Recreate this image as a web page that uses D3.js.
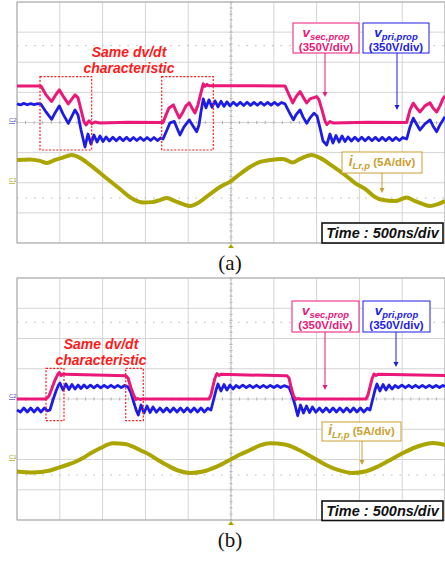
<!DOCTYPE html>
<html>
<head>
<meta charset="utf-8">
<script src="https://cdn.jsdelivr.net/npm/d3@7"></script>
<style>
html, body { margin: 0; padding: 0; background: #fff; }
svg { display: block; font-family: 'Liberation Sans', Arial, sans-serif; }
</style>
</head>
<body>
<div id="chart"></div>
<script>
// time in ns across the screen (10 div x 500 ns), volts / amps from each channel's ground
var timeDivs = [0, 500, 1000, 1500, 2000, 2500, 3000, 3500, 4000, 4500, 5000];
var voltDivs = [-4, -3, -2, -1, 0, 1, 2, 3, 4];
var panelNames = ['(a)', '(b)'];
var timeText = 'Time : 500ns/div';
var voltText = '(350V/div)';
var curText = ' (5A/div)';
var noteText = ['Same dv/dt', 'characteristic'];

// (a) proposed, vsec / vpri (V), iLr,p (A)
var vsecA = [[0,425],[280,425],[339,321],[405,245],[444,309],[494,379],[537,309],[599,216],[643,274],[678,321],[713,286],[748,146],[783,6],[806,-29],[841,18],[876,-12],[911,6],[970,-6],[1300,4],[1706,0],[1741,88],[1776,169],[1826,204],[1857,134],[1896,53],[1939,123],[1974,193],[2013,228],[2044,169],[2079,111],[2114,204],[2149,344],[2176,449],[2196,420],[2220,443],[2243,426],[2700,428],[3131,425],[3178,321],[3221,228],[3259,298],[3306,359],[3341,298],[3384,228],[3423,274],[3501,301],[3528,263],[3563,146],[3598,18],[3621,-23],[3656,12],[3691,-6],[4100,4],[4552,0],[4591,146],[4629,224],[4667,169],[4708,123],[4766,193],[4825,228],[4860,169],[4903,123],[4941,193],[4976,274],[5000,309]];
var vpriA = [[0,408],[40,396],[80,414],[120,398],[160,412],[200,400],[240,410],[280,404],[339,315],[405,228],[444,303],[494,385],[537,292],[599,181],[643,268],[678,338],[713,280],[748,105],[794,-93],[829,58],[864,-58],[899,47],[935,-35],[970,35],[1005,-29],[1040,23],[1080,-23],[1120,21],[1160,-21],[1200,20],[1240,-20],[1280,19],[1320,-19],[1360,18],[1400,-18],[1440,18],[1480,-18],[1520,18],[1560,-18],[1600,18],[1640,-18],[1680,12],[1706,0],[1752,105],[1787,187],[1838,204],[1869,128],[1904,47],[1951,140],[2013,222],[2056,152],[2099,85],[2126,163],[2149,315],[2176,467],[2208,362],[2243,455],[2278,368],[2313,443],[2348,373],[2383,438],[2418,379],[2453,432],[2488,385],[2528,428],[2568,390],[2608,428],[2648,390],[2688,427],[2728,391],[2768,426],[2808,392],[2848,426],[2888,392],[2928,425],[2968,393],[3008,425],[3048,393],[3088,424],[3131,408],[3178,315],[3229,222],[3259,280],[3306,338],[3341,257],[3384,183],[3423,245],[3470,300],[3505,268],[3540,128],[3575,-23],[3618,-70],[3656,58],[3691,-47],[3727,41],[3762,-35],[3797,35],[3832,-29],[3867,23],[3907,-23],[3947,21],[3987,-21],[4027,20],[4067,-20],[4107,20],[4147,-20],[4187,19],[4227,-19],[4267,19],[4307,-19],[4347,19],[4387,-19],[4427,18],[4467,-18],[4507,18],[4552,0],[4591,140],[4629,242],[4667,175],[4708,105],[4766,175],[4825,222],[4860,152],[4903,85],[4941,163],[5000,260]];
var iLrA = [[0,3.33],[152,3.42],[269,3.17],[350,2.83],[444,3.33],[526,3.67],[639,4.17],[736,3.67],[853,2.5],[970,1.17],[1086,-0.17],[1203,-1.5],[1355,-3.17],[1472,-3.75],[1577,-3.67],[1671,-3.33],[1752,-3.0],[1846,-3.5],[1939,-4.0],[2021,-4.33],[2114,-3.83],[2255,-2.33],[2371,-1.17],[2500,-0.17],[2605,1.0],[2722,2.17],[2839,3.0],[2955,3.33],[3107,3.5],[3224,2.92],[3306,3.5],[3443,4.17],[3540,3.67],[3691,2.25],[3832,0.83],[3949,-0.5],[4085,-1.67],[4182,-2.83],[4276,-3.33],[4416,-3.5],[4552,-2.92],[4649,-3.5],[4743,-4.0],[4825,-4.33],[4918,-4.0],[5000,-3.5]];

// (b)
var vsecB = [[0,0],[339,0],[374,35],[409,127],[444,220],[479,289],[494,307],[514,272],[537,289],[561,285],[1273,268],[1297,243],[1332,127],[1367,35],[1390,-6],[1413,6],[1437,-6],[1460,0],[2243,0],[2266,46],[2290,150],[2313,243],[2336,295],[2360,272],[2383,285],[3154,268],[3178,243],[3201,139],[3230,35],[3259,-6],[3283,6],[3306,0],[4077,0],[4100,46],[4124,139],[4147,231],[4170,289],[4194,272],[4217,285],[5000,272]];
var vpriB = [[0,0],[40,-23],[80,23],[120,-23],[160,23],[200,-23],[240,23],[280,-23],[320,23],[355,-10],[385,0],[420,116],[456,220],[485,289],[502,312],[537,231],[572,301],[607,237],[642,295],[678,243],[713,289],[748,249],[783,289],[818,255],[858,287],[898,257],[938,287],[978,257],[1018,286],[1058,258],[1098,286],[1138,258],[1178,285],[1218,259],[1258,284],[1297,265],[1332,197],[1367,81],[1396,-12],[1417,-58],[1449,58],[1484,-35],[1519,46],[1554,-29],[1589,35],[1629,-25],[1669,23],[1709,-23],[1749,23],[1789,-23],[1829,23],[1869,-23],[1909,23],[1949,-23],[1989,23],[2029,-23],[2069,23],[2109,-23],[2149,23],[2189,-23],[2229,20],[2266,0],[2296,116],[2325,231],[2348,301],[2383,220],[2418,295],[2453,231],[2488,289],[2523,243],[2558,283],[2598,258],[2638,287],[2678,258],[2718,286],[2758,258],[2798,286],[2838,259],[2878,285],[2918,259],[2958,285],[3000,260],[3040,284],[3080,260],[3120,282],[3160,268],[3178,262],[3213,174],[3248,58],[3279,-66],[3312,58],[3347,-35],[3382,46],[3417,-29],[3452,35],[3492,-25],[3532,23],[3572,-23],[3612,23],[3652,-23],[3692,23],[3732,-23],[3772,23],[3812,-23],[3852,23],[3892,-23],[3932,23],[3972,-23],[4012,23],[4052,-23],[4092,20],[4124,0],[4153,116],[4182,231],[4205,301],[4240,220],[4276,295],[4311,231],[4346,289],[4381,243],[4416,283],[4456,258],[4496,287],[4536,258],[4576,286],[4616,258],[4656,286],[4696,259],[4736,285],[4776,259],[4816,285],[4856,260],[4896,284],[4936,260],[4976,284],[5000,272]];
var iLrB = [[0,-2.23],[187,-2.4],[385,-2.07],[479,-1.65],[581,-1.16],[678,-0.66],[771,0],[876,0.91],[970,1.6],[1121,2.43],[1262,2.31],[1355,1.87],[1460,1.16],[1554,0.5],[1647,-0.33],[1749,-1.16],[1881,-2.07],[2021,-2.48],[2173,-2.23],[2333,-1.43],[2500,-0.21],[2605,0.58],[2722,1.32],[2839,2.07],[2955,2.43],[3131,2.23],[3283,1.4],[3446,0.17],[3598,-1.07],[3750,-1.98],[3914,-2.48],[4066,-2.23],[4229,-1.32],[4381,-0.17],[4533,0.99],[4696,1.98],[4860,2.48],[5000,2.15]];

var PINK = '#ea1879', BLUE = '#1c1ce6', OLIVE = '#aaa500', GOLD = '#c9a030', RED = '#ff1a1a';

var svg = d3.select('#chart').append('svg').attr('width', 445).attr('height', 561);
var x = d3.scaleLinear().domain([0, 5000]).range([17, 445]);

var panels = [
    {top: 2, bottom: 243, sec: vsecA, pri: vpriA, cur: iLrA,
     off: {sec: 0, pri: -0.548, cur: -1.909}, dots: [45.7, 198], marks: [120, 180],
     secBox: [293, 23, 66, 30], priBox: [363, 23, 66, 30], curBox: [342, 152, 80, 21],
     secArrow: [325, 97], priArrow: [397, 110], curArrow: [382, 193],
     timeBox: [322, 223, 121, 20], note: [129, 56.5, 72.5],
     redBoxes: [[40, 76.7, 51.7, 73.3], [161.7, 76.7, 51.6, 73.3]], caption: 270},
    {top: 278, bottom: 520, sec: vsecB, pri: vpriB, cur: iLrB,
     off: {sec: 0, pri: -0.364, cur: -1.95}, dots: [322.3, 475], marks: [396, 457],
     secBox: [292, 301, 67, 31], priBox: [363, 301, 67, 31], curBox: [322, 422, 79, 19],
     secArrow: [325, 390], priArrow: [396, 367], curArrow: [362, 465],
     timeBox: [322, 501, 121, 19.5], note: [101, 349, 365],
     redBoxes: [[46, 368.3, 18, 52.4], [125.7, 368.3, 17.6, 52.4]], caption: 547}
];

function arrow(g, ax, y1, y2, col){
    g.append('line').attr('x1', ax).attr('x2', ax).attr('y1', y1).attr('y2', y2 - 4)
        .attr('stroke', col).attr('stroke-width', 1);
    g.append('path').attr('d', 'M' + (ax - 2.5) + ',' + (y2 - 5) + 'L' + (ax + 2.5) + ',' + (y2 - 5) + 'L' + ax + ',' + y2 + 'Z')
        .attr('fill', col);
}

function voltLabel(g, box, name, col){
    g.append('rect').attr('x', box[0]).attr('y', box[1]).attr('width', box[2]).attr('height', box[3])
        .attr('fill', '#fff').attr('stroke', col).attr('stroke-width', 1);
    var cx = box[0] + box[2] / 2;
    var t = g.append('text').attr('x', cx).attr('y', box[1] + 14).attr('text-anchor', 'middle')
        .attr('fill', col).attr('font-weight', 'bold').attr('font-style', 'italic');
    t.append('tspan').attr('font-size', 13.5).text('v');
    t.append('tspan').attr('font-size', 9.5).attr('dy', 2.5).text(name);
    g.append('text').attr('x', cx).attr('y', box[1] + 27.5).attr('text-anchor', 'middle')
        .attr('fill', col).attr('font-weight', 'bold').attr('font-size', 11.5).text(voltText);
}

function drawPanel(p){
    var g = svg.append('g');
    var y = d3.scaleLinear().domain([-4, 4]).range([p.bottom, p.top]);
    var mid = y(0), xm = x(2500);

    g.append('rect').attr('x', 17).attr('y', p.top).attr('width', 428).attr('height', p.bottom - p.top).attr('fill', '#fff');

    // grid
    g.selectAll('.vg').data(timeDivs).enter().append('line')
        .attr('x1', function(d){ return x(d); }).attr('x2', function(d){ return x(d); })
        .attr('y1', p.top).attr('y2', p.bottom).attr('stroke', '#d4d4d4').attr('stroke-width', 1);
    g.selectAll('.hg').data(voltDivs).enter().append('line')
        .attr('x1', 17).attr('x2', 445)
        .attr('y1', function(d){ return y(d); }).attr('y2', function(d){ return y(d); })
        .attr('stroke', '#d4d4d4').attr('stroke-width', 1);
    p.dots.forEach(function(dy){
        g.append('line').attr('x1', 17).attr('x2', 445).attr('y1', dy).attr('y2', dy)
            .attr('stroke', '#b8b8b8').attr('stroke-width', 1).attr('stroke-dasharray', '1.5,7');
    });
    // centre cross ticks
    g.selectAll('.tx').data(d3.range(0, 5001, 100)).enter().append('line')
        .attr('x1', function(d){ return x(d); }).attr('x2', function(d){ return x(d); })
        .attr('y1', mid - 1.5).attr('y2', mid + 1.5).attr('stroke', '#b0b0b0');
    g.selectAll('.ty').data(d3.range(-4, 4.01, 0.2)).enter().append('line')
        .attr('x1', xm - 1.5).attr('x2', xm + 1.5)
        .attr('y1', function(d){ return y(d); }).attr('y2', function(d){ return y(d); }).attr('stroke', '#b0b0b0');
    g.append('line').attr('x1', xm).attr('x2', xm).attr('y1', p.top).attr('y2', p.bottom)
        .attr('stroke', '#bdbdbd').attr('stroke-dasharray', '3,1');
    g.append('rect').attr('x', 17).attr('y', p.top).attr('width', 428).attr('height', p.bottom - p.top)
        .attr('fill', 'none').attr('stroke', '#a8a8a8').attr('stroke-width', 1);

    // channel markers
    g.append('text').attr('x', 9).attr('y', p.marks[0] + 2).attr('font-size', 6).attr('fill', '#4a4ac8').text('C2');
    g.append('line').attr('x1', 9).attr('x2', 15).attr('y1', p.marks[0] + 3.5).attr('y2', p.marks[0] + 3.5).attr('stroke', '#4a4ac8').attr('stroke-width', 0.7);
    g.append('text').attr('x', 9).attr('y', p.marks[1] + 2).attr('font-size', 6).attr('fill', OLIVE).text('C1');
    g.append('line').attr('x1', 9).attr('x2', 15).attr('y1', p.marks[1] + 3.5).attr('y2', p.marks[1] + 3.5).attr('stroke', OLIVE).attr('stroke-width', 0.7);
    g.append('path').attr('d', 'M' + (xm - 3) + ',' + (p.bottom + 5) + 'L' + (xm + 3) + ',' + (p.bottom + 5) + 'L' + xm + ',' + (p.bottom + 1) + 'Z')
        .attr('fill', OLIVE);

    // traces
    function trace(data, perDiv, off, col, w, curve){
        var line = d3.line()
            .x(function(d){ return x(d[0]); })
            .y(function(d){ return y(d[1] / perDiv + off); })
            .curve(curve);
        g.append('path').datum(data).attr('d', line).attr('fill', 'none')
            .attr('stroke', col).attr('stroke-width', w).attr('stroke-linejoin', 'round');
    }
    trace(p.cur, 5, p.off.cur, OLIVE, 4, d3.curveMonotoneX);
    trace(p.pri, 350, p.off.pri, BLUE, 2.8, d3.curveLinear);
    trace(p.sec, 350, p.off.sec, PINK, 3, d3.curveLinear);

    // dashed boxes + note
    p.redBoxes.forEach(function(b){
        g.append('rect').attr('x', b[0]).attr('y', b[1]).attr('width', b[2]).attr('height', b[3])
            .attr('fill', 'none').attr('stroke', RED).attr('stroke-width', 1.2).attr('stroke-dasharray', '2,1.6');
    });
    var note = g.append('text').attr('text-anchor', 'middle')
        .attr('font-size', 14).attr('font-weight', 'bold').attr('font-style', 'italic').attr('fill', RED);
    noteText.forEach(function(s, i){
        note.append('tspan').attr('x', p.note[0]).attr('y', p.note[i + 1]).text(s);
    });

    // labels
    voltLabel(g, p.secBox, 'sec,prop', PINK);
    voltLabel(g, p.priBox, 'pri,prop', BLUE);
    arrow(g, p.secArrow[0], p.secBox[1] + p.secBox[3], p.secArrow[1], PINK);
    arrow(g, p.priArrow[0], p.priBox[1] + p.priBox[3], p.priArrow[1], BLUE);

    var cb = p.curBox;
    g.append('rect').attr('x', cb[0]).attr('y', cb[1]).attr('width', cb[2]).attr('height', cb[3])
        .attr('fill', '#fff').attr('stroke', GOLD).attr('stroke-width', 1);
    var ct = g.append('text').attr('x', cb[0] + cb[2] / 2).attr('y', cb[1] + cb[3] / 2 + 3.5).attr('text-anchor', 'middle')
        .attr('fill', GOLD).attr('font-weight', 'bold');
    ct.append('tspan').attr('font-size', 14).attr('font-style', 'italic').text('i');
    ct.append('tspan').attr('font-size', 9.5).attr('font-style', 'italic').attr('dy', 2.5).text('Lr,p');
    ct.append('tspan').attr('font-size', 11.5).attr('dy', -2.5).text(curText);
    arrow(g, p.curArrow[0], cb[1] + cb[3], p.curArrow[1], GOLD);

    var tb = p.timeBox;
    g.append('rect').attr('x', tb[0]).attr('y', tb[1]).attr('width', tb[2]).attr('height', tb[3])
        .attr('fill', '#fff').attr('stroke', '#111').attr('stroke-width', 1.6);
    g.append('text').attr('x', tb[0] + tb[2] / 2).attr('y', tb[1] + tb[3] / 2 + 5).attr('text-anchor', 'middle')
        .attr('font-size', 14.5).attr('font-weight', 'bold').attr('font-style', 'italic').attr('fill', '#111')
        .text(timeText);
}

panels.forEach(function(p, i){
    drawPanel(p);
    svg.append('text').attr('x', 230).attr('y', p.caption).attr('text-anchor', 'middle')
        .attr('font-family', "'Liberation Serif', 'Times New Roman', serif").attr('font-size', 21)
        .attr('fill', '#111').text(panelNames[i]);
});
</script>
</body>
</html>
